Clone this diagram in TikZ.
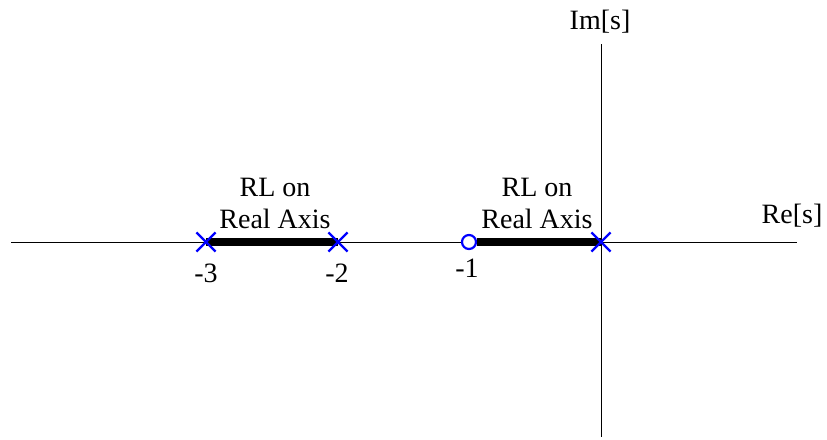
\documentclass[tikz,border=0pt]{standalone}
\usepackage{fontspec}
\setmainfont{Liberation Serif}
\usetikzlibrary{shapes.misc}
\begin{document}
\begin{tikzpicture}[x=1pt,y=-1pt,
  axis/.style={line width=1pt,black},
  locus/.style={line width=8pt,black},
  polemark/.style={cross out,draw=blue,line width=2.2pt,minimum size=17pt,inner sep=0pt},
  zeromark/.style={circle,draw=blue,line width=2.2pt,minimum size=14pt,inner sep=0pt,fill=white},
  lbl/.style={font=\fontsize{28}{32}\selectfont,inner sep=0pt}]
\useasboundingbox (0,0) rectangle (827,439);
% axes
\coordinate (xl) at (11,242);
\coordinate (xr) at (797,242);
\coordinate (yt) at (601,44);
\coordinate (yb) at (601,437);
\draw[axis] (xl) -- (xr);
\draw[axis] (yt) -- (yb);
% pole/zero positions
\coordinate (p3) at (206,242);
\coordinate (p2) at (338,242);
\coordinate (z1) at (469,242);
\coordinate (p0) at (601,242);
% root locus
\draw[locus] (p3) -- (p2);
\node[zeromark] (Z1) at (z1) {};
\draw[locus] (Z1.east) -- (p0);
\node[polemark] (P3) at (p3) {};
\node[polemark] (P2) at (p2) {};
\node[polemark] (P0) at (p0) {};
% labels
\node[lbl] (l3) at (206,273) {-3};
\node[lbl] (l2) at (337,273) {-2};
\node[lbl] (l1) at (467,268) {-1};
\node[lbl,align=center] (rl1) at (275,203) {RL on\\Real Axis};
\node[lbl,align=center] (rl2) at (537,203) {RL on\\Real Axis};
\node[lbl] (im) at (600,22) {Im[s]};
\node[lbl] (re) at (792,216) {Re[s]};
\end{tikzpicture}
\end{document}
